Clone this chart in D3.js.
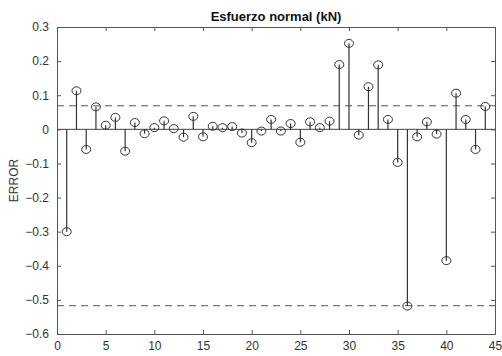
<!DOCTYPE html>
<html>
<head>
<meta charset="utf-8">
<script src="https://cdn.jsdelivr.net/npm/d3@7"></script>
<style>
    body { margin: 0; background: #fff; }
    #chart-container { width: 502px; height: 356px; }
    text { font-family: "Liberation Sans", Arial, sans-serif; }
</style>
</head>
<body>
<div id="chart-container"></div>
<script>
// Error values for each sample (1..44)
const samples = d3.range(1, 45);
const errors = [
    -0.300, 0.113, -0.059, 0.066, 0.012, 0.035, -0.064, 0.020, -0.013, 0.005,
    0.025, 0.002, -0.023, 0.038, -0.022, 0.009, 0.005, 0.008, -0.011, -0.039,
    -0.005, 0.029, -0.005, 0.017, -0.038, 0.022, 0.005, 0.024, 0.190, 0.252,
    -0.017, 0.125, 0.189, 0.029, -0.097, -0.518, -0.022, 0.022, -0.014, -0.385,
    0.106, 0.029, -0.059, 0.067
];
const limits = [0.069, -0.517];
const xTicks = [0, 5, 10, 15, 20, 25, 30, 35, 40, 45];
const yTicks = [0.3, 0.2, 0.1, 0, -0.1, -0.2, -0.3, -0.4, -0.5, -0.6];

function renderChart() {
    d3.select("#chart-container svg").remove();

    const margin = { top: 27, right: 7, bottom: 22, left: 57 };
    const totalW = 502, totalH = 356;
    const width = totalW - margin.left - margin.right;
    const height = totalH - margin.top - margin.bottom;

    const svg = d3.select("#chart-container")
        .append("svg")
        .attr("width", totalW)
        .attr("height", totalH)
        .append("g")
        .attr("transform", `translate(${margin.left},${margin.top})`);

    const x = d3.scaleLinear().domain([0, 45]).range([0, width]);
    const y = d3.scaleLinear().domain([-0.6, 0.3]).range([height, 0]);

    const axisColor = "#555";
    const fmt = d => d === 0 ? "0" : d3.format(".1f")(d);

    // axes with inward ticks (MATLAB style)
    const gx = svg.append("g")
        .attr("transform", `translate(0,${height})`)
        .call(d3.axisBottom(x).tickValues(xTicks).tickSize(-4).tickPadding(7).tickFormat(d3.format("d")));
    const gy = svg.append("g")
        .call(d3.axisLeft(y).tickValues(yTicks).tickSize(-4).tickPadding(8).tickFormat(fmt));
    const gt = svg.append("g")
        .call(d3.axisTop(x).tickValues(xTicks).tickSize(-4).tickFormat(""));
    const gr = svg.append("g")
        .attr("transform", `translate(${width},0)`)
        .call(d3.axisRight(y).tickValues(yTicks).tickSize(-4).tickFormat(""));

    [gx, gy, gt, gr].forEach(g => {
        g.selectAll("path, line").attr("stroke", axisColor);
        g.selectAll("text").attr("fill", "#333").style("font-size", "12px");
    });

    // zero line
    svg.append("line")
        .attr("x1", x(0)).attr("x2", x(45))
        .attr("y1", y(0)).attr("y2", y(0))
        .attr("stroke", "#444")
        .attr("stroke-width", 1);

    // dashed limit lines
    svg.selectAll(".limit")
        .data(limits)
        .enter().append("line")
        .attr("class", "limit")
        .attr("x1", x(0)).attr("x2", x(45))
        .attr("y1", d => y(d)).attr("y2", d => y(d))
        .attr("stroke", "#555")
        .attr("stroke-width", 1)
        .attr("stroke-dasharray", "7,5");

    const data = samples.map((s, i) => ({ x: s, v: errors[i] }));

    // stems
    svg.selectAll(".stem")
        .data(data)
        .enter().append("line")
        .attr("class", "stem")
        .attr("x1", d => x(d.x)).attr("x2", d => x(d.x))
        .attr("y1", y(0)).attr("y2", d => y(d.v))
        .attr("stroke", "#333")
        .attr("stroke-width", 1.2);

    // markers
    svg.selectAll(".marker")
        .data(data)
        .enter().append("ellipse")
        .attr("class", "marker")
        .attr("cx", d => x(d.x))
        .attr("cy", d => y(d.v))
        .attr("rx", 4.5).attr("ry", 4)
        .attr("fill", "none")
        .attr("stroke", "#333")
        .attr("stroke-width", 1);

    // title
    svg.append("text")
        .attr("x", width / 2)
        .attr("y", -6)
        .attr("text-anchor", "middle")
        .style("font-size", "13px")
        .style("font-weight", "bold")
        .attr("fill", "#111")
        .text("Esfuerzo normal (kN)");

    // y label
    svg.append("text")
        .attr("transform", "rotate(-90)")
        .attr("x", -(y(-0.15)))
        .attr("y", -39)
        .attr("text-anchor", "middle")
        .style("font-size", "12px")
        .attr("fill", "#333")
        .text("ERROR");
}

renderChart();
</script>
</body>
</html>
